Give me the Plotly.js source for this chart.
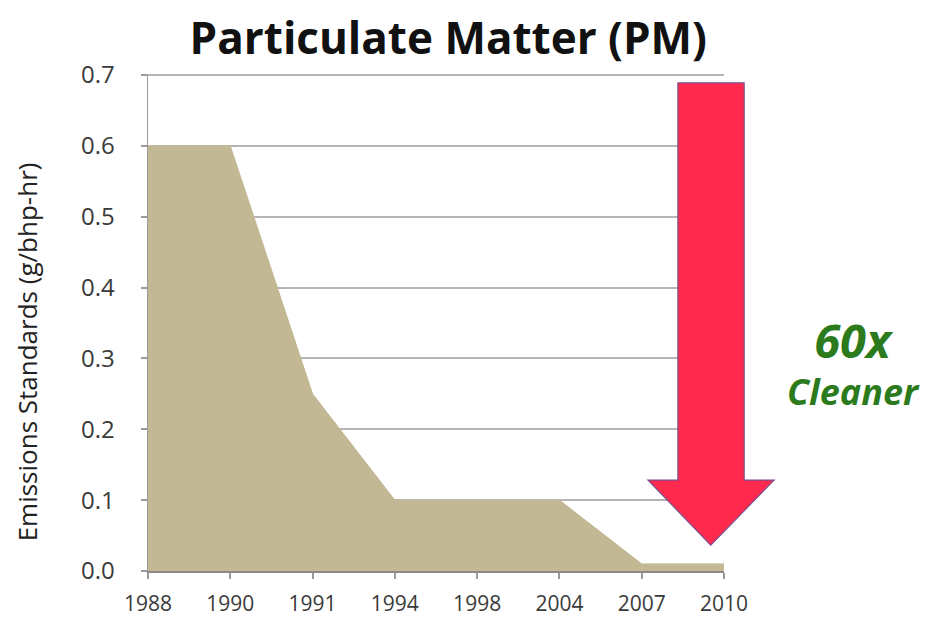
<!DOCTYPE html>
<html><head><meta charset="utf-8">
<script src="https://cdn.plot.ly/plotly-3.0.1.min.js"></script>
<style>body{margin:0;background:#fff}#c{width:934px;height:623px}</style>
</head><body><div id="c"></div>
<script>
const years = ['1988','1990','1991','1994','1998','2004','2007','2010'];
const pmValues = [0.6, 0.6, 0.25, 0.1, 0.1, 0.1, 0.01, 0.01];
const yTicks = [0, 0.1, 0.2, 0.3, 0.4, 0.5, 0.6, 0.7];
const yTickLabels = ['0.0','0.1','0.2','0.3','0.4','0.5','0.6','0.7'];

const trace = {
  x: years, y: pmValues, type: 'scatter', mode: 'lines',
  fill: 'tozeroy', fillcolor: '#c3b894',
  line: {color: '#c3b894', width: 1}, hoverinfo: 'skip'
};
const layout = {
  width: 934, height: 623,
  margin: {l: 148, r: 210, t: 74, b: 52},
  paper_bgcolor: '#fff', plot_bgcolor: '#fff',
  showlegend: false,
  title: {text: 'Particulate Matter (PM)', x: 0.48, xanchor: 'center', y: 0.938, yanchor: 'middle',
    font: {family: 'Open Sans', size: 44, color: '#111', weight: 700}},
  xaxis: {type: 'category', range: [0, 7], showgrid: false, zeroline: false,
    showline: true, linecolor: '#8a8a8a', linewidth: 2,
    ticks: 'outside', ticklen: 6, tickcolor: '#9a9a9a', tickwidth: 2,
    ticklabelstandoff: 7,
    tickfont: {family: 'Open Sans', size: 21, color: '#3a3a3a'}},
  yaxis: {range: [0, 0.7015], tickvals: yTicks, ticktext: yTickLabels,
    showgrid: true, gridcolor: '#b5b5b5', gridwidth: 2, zeroline: false,
    showline: true, linecolor: '#9a9a9a', linewidth: 1.5,
    ticks: 'outside', ticklen: 6, tickcolor: '#9a9a9a', tickwidth: 2,
    ticklabelstandoff: 21,
    tickfont: {family: 'Open Sans', size: 24, color: '#3a3a3a'}},
  shapes: [{
    type: 'path', xref: 'paper', yref: 'paper',
    path: 'M 0.920 0.982 L 1.035 0.982 L 1.035 0.183 L 1.087 0.183 L 0.977 0.052 L 0.868 0.183 L 0.920 0.183 Z',
    fillcolor: '#ff2a4d', line: {color: '#7a4d8a', width: 1.2}
  }],
  annotations: [
    {text: 'Emissions Standards (g/bhp-hr)', xref: 'paper', yref: 'paper',
     x: -0.21, y: 0.44, textangle: -90, showarrow: false, xanchor: 'center', yanchor: 'middle',
     font: {family: 'Open Sans', size: 26, color: '#222'}},
    {text: '<b><i><span style="font-size:47px">60x</span></i></b><br><b><i>Cleaner</i></b>',
     xref: 'paper', yref: 'paper', x: 1.225, y: 0.42,
     showarrow: false, xanchor: 'center', yanchor: 'middle', align: 'center',
     font: {family: 'Open Sans', size: 36, color: '#2b7a1c'}}
  ]
};
Plotly.newPlot('c', [trace], layout, {displayModeBar: false, staticPlot: true});
</script></body></html>
